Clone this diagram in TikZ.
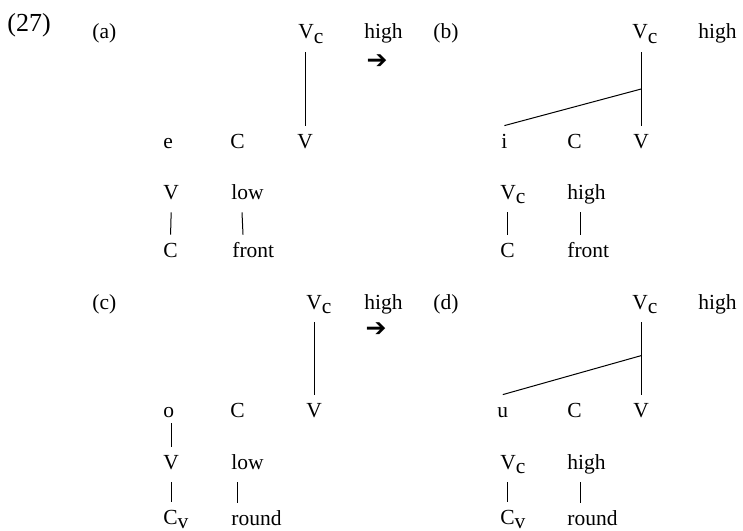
\documentclass[tikz,border=0pt]{standalone}
\usepackage{fontspec}
\setmainfont{Liberation Serif}
\newfontfamily\arrowfont{DejaVu Sans Bold}
\usetikzlibrary{calc}
\newcommand{\sbs}[1]{\raisebox{-0.22em}{#1}}
\tikzset{
    seg/.style={anchor=base west, inner xsep=0pt, inner ysep=4pt, text height=0.7em, text depth=0.25em, font=\fontsize{10.75}{13}\selectfont},
    tag/.style={anchor=base west, inner sep=0pt, font=\fontsize{10.75}{13}\selectfont},
    link/.style={line width=0.5pt},
    arrowsym/.style={font=\arrowfont\fontsize{12.5}{14}\selectfont, inner sep=0pt}
}
\begin{document}
\begin{tikzpicture}[x=0.5pt, y=-0.5pt]
    \useasboundingbox (0,0) rectangle (743,530);
    \node (ex) [anchor=base west, inner sep=0pt, font=\fontsize{13}{15}\selectfont] at (7,32) {(27)};

    % (a)
    \node (labA) [tag] at (92,39) {(a)};
    \node (vcA) [seg] at (298,39) {V\sbs{c}};
    \node (hiA) [seg] at (364,39) {high};
    \node (arrA) [arrowsym] at (377,62) {➔};
    \node (eA) [seg] at (163,148) {e};
    \node (cA) [seg] at (230,148) {C};
    \node (vA) [seg] at (297,148) {V};
    \node (vlA) [seg] at (163,199) {V};
    \node (lowA) [seg] at (231,199) {low};
    \node (clA) [seg] at (163,257) {C};
    \node (frA) [seg] at (232,257) {front};
    \draw [link] (vA.north |- vcA.south) -- (vA.north);
    \draw [link] (vlA.south) -- (clA.north);
    \draw [link] ([xshift=5.5pt]lowA.south west) -- ([xshift=5.5pt]frA.north west);

    % (b)
    \node (labB) [tag] at (433,39) {(b)};
    \node (vcB) [seg] at (632,39) {V\sbs{c}};
    \node (hiB) [seg] at (698,39) {high};
    \node (iB) [seg] at (501,148) {i};
    \node (cB) [seg] at (567,148) {C};
    \node (vB) [seg] at (633,148) {V};
    \node (vlB) [seg] at (500,199) {V\sbs{c}};
    \node (hlB) [seg] at (567,199) {high};
    \node (clB) [seg] at (500,257) {C};
    \node (frB) [seg] at (567,257) {front};
    \coordinate (jB) at ($(vB.north |- vcB.south)!0.5!(vB.north)$);
    \draw [link] (vB.north |- vcB.south) -- (vB.north);
    \draw [link] (iB.north) -- (jB);
    \draw [link] (clB.north |- vlB.south) -- (clB.north);
    \draw [link] ([xshift=6.5pt]hlB.south west) -- ([xshift=6.5pt]frB.north west);

    % (c)
    \node (labC) [tag] at (92,309) {(c)};
    \node (vcC) [seg] at (306,309) {V\sbs{c}};
    \node (hiC) [seg] at (364,309) {high};
    \node (arrC) [arrowsym] at (376,330) {➔};
    \node (oC) [seg] at (163,417) {o};
    \node (cC) [seg] at (230,417) {C};
    \node (vC) [seg] at (306,417) {V};
    \node (vlC) [seg] at (163,469) {V};
    \node (lowC) [seg] at (231,469) {low};
    \node (cvC) [seg] at (163,524) {C\sbs{v}};
    \node (rdC) [seg] at (231,525) {round};
    \draw [link] (vC.north |- vcC.south) -- (vC.north);
    \draw [link, shorten <=-3.5pt] (vlC.north |- oC.south) -- (vlC.north);
    \draw [link] (vlC.south) -- (vlC.south |- cvC.north);
    \draw [link] ([xshift=3pt]lowC.south west) -- ([xshift=3pt]rdC.north west);

    % (d)
    \node (labD) [tag] at (433,309) {(d)};
    \node (vcD) [seg] at (632,309) {V\sbs{c}};
    \node (hiD) [seg] at (698,309) {high};
    \node (uD) [seg] at (497,417) {u};
    \node (cD) [seg] at (567,417) {C};
    \node (vD) [seg] at (633,417) {V};
    \node (vlD) [seg] at (500,469) {V\sbs{c}};
    \node (hlD) [seg] at (567,469) {high};
    \node (cvD) [seg] at (500,524) {C\sbs{v}};
    \node (rdD) [seg] at (567,525) {round};
    \coordinate (jD) at ($(vD.north |- vcD.south)!0.46!(vD.north)$);
    \draw [link] (vD.north |- vcD.south) -- (vD.north);
    \draw [link] (uD.north) -- (jD);
    \draw [link] ([xshift=3.5pt]cvD.north west |- vlD.south) -- ([xshift=3.5pt]cvD.north west);
    \draw [link] ([xshift=6.5pt]hlD.south west) -- ([xshift=6.5pt]rdD.north west);
\end{tikzpicture}
\end{document}
